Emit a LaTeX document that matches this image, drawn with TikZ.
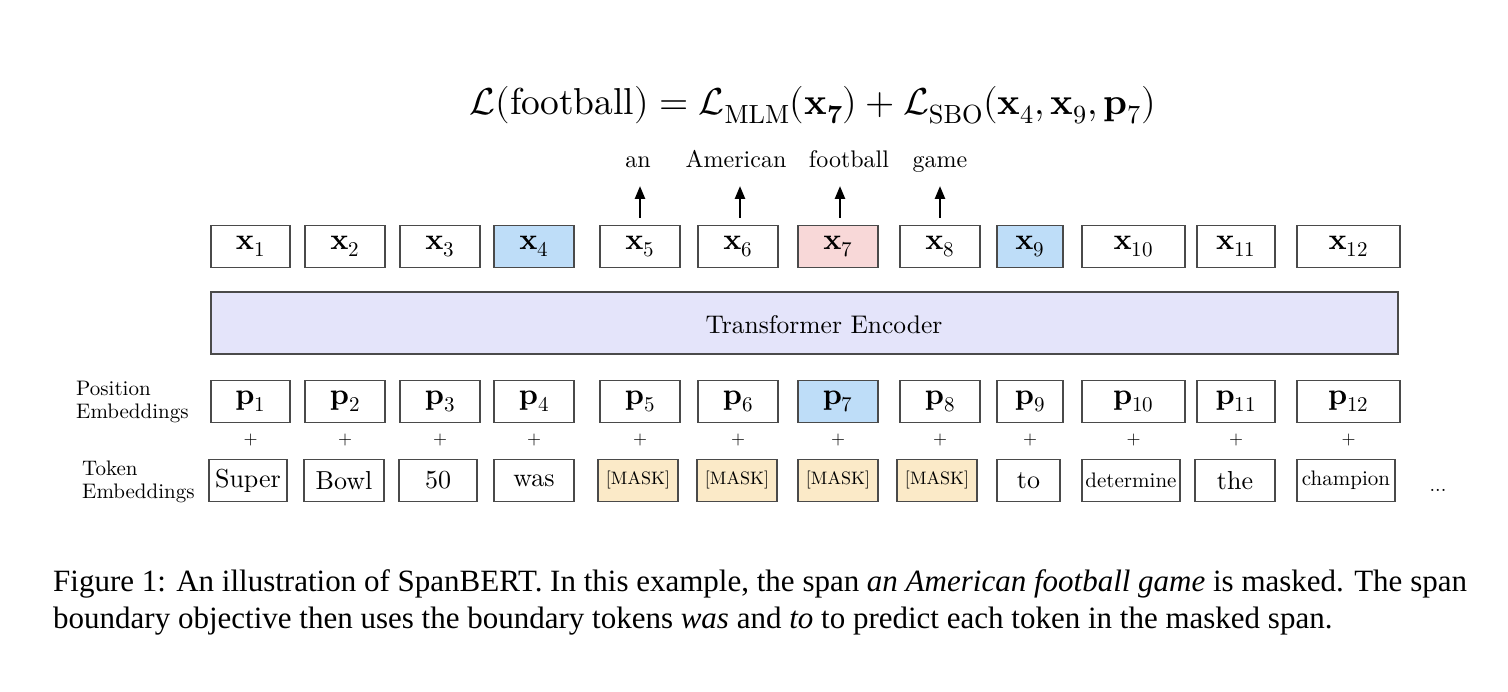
\documentclass[tikz,border=0pt]{standalone}
\usepackage{fontspec}
\usepackage{unicode-math}
\setmainfont{lmroman10-regular}[Extension=.otf, BoldFont=lmroman10-bold, ItalicFont=lmroman10-italic]
\setmathfont{Latin Modern Math}
\usetikzlibrary{arrows.meta}
\newfontfamily\capfont{Liberation Serif}
\newcommand\calL{\mathord{\hbox{\usefont{OMS}{cmsy}{m}{n}L}}}
\definecolor{bordergray}{HTML}{4A4A4A}
\definecolor{hlblue}{HTML}{BEDDF8}
\definecolor{hlpink}{HTML}{F8D8D8}
\definecolor{maskbeige}{HTML}{FBEAC8}
\definecolor{encpurple}{HTML}{E4E4FA}
\tikzset{
  box/.style={draw=bordergray, line width=1.8pt, fill=white, minimum height=42pt, inner sep=0pt, font=\fontsize{30}{34}\selectfont},
  tok/.style={box, font=\fontsize{26}{30}\selectfont},
  masktok/.style={box, fill=maskbeige, font=\fontsize{18}{22}\selectfont},
  plus/.style={font=\fontsize{18}{20}\selectfont, inner sep=0pt},
  side/.style={font=\fontsize{21}{23}\selectfont, align=left, inner sep=0pt, anchor=west},
  word/.style={font=\fontsize{24}{28}\selectfont, inner sep=0pt, anchor=base},
  up/.style={line width=2.4pt, -{Triangle[length=13pt,width=10pt]}},
  captext/.style={anchor=base west, inner sep=0pt, font=\capfont\fontsize{31}{36}\selectfont},
}
\begin{document}
\begin{tikzpicture}[x=1pt,y=-1pt]
\useasboundingbox[fill=white] (0,0) rectangle (1508,692);
% equation
\node[font=\fontsize{37.5}{42}\selectfont, inner sep=0pt] (eq) at (813,105) {$\calL(\mathrm{football}) = \calL_{\mathrm{MLM}}(\mathbf{x_7}) + \calL_{\mathrm{SBO}}(\mathbf{x}_4, \mathbf{x}_9, \mathbf{p}_7)$};
% x row, p row, plus signs
\foreach \n/\cx/\w/\f in {1/250.5/79/white,2/345/80/white,3/440/80/white,4/534/80/hlblue,5/640/80/white,6/738/80/white,7/838/80/hlpink,8/940/80/white,9/1030/66/hlblue,10/1133.5/103/white,11/1236/78/white,12/1348.5/103/white}{
  \node[box, fill=\f, minimum width=\w] (x\n) at (\cx,246.5) {$\mathbf{x}_{\n}$};
  \node[box, fill=white, minimum width=\w] (p\n) at (\cx,401.5) {$\mathbf{p}_{\n}$};
  \node[plus] (plus\n) at (\cx,440) {+};
}
\node[box, fill=hlblue, minimum width=80] (p7hl) at (p7) {$\mathbf{p}_{7}$};
% encoder
\node[draw=bordergray, line width=1.8pt, fill=encpurple, minimum width=1187, minimum height=62, inner sep=0pt] (enc) at (804.5,323) {};
\node[font=\fontsize{25.5}{30}\selectfont, inner sep=0pt] (enclabel) at (824,325) {Transformer Encoder};
% tokens
\node[tok, minimum width=78] (t1) at (248,480.5) {Super};
\node[tok, minimum width=80] (t2) at (344,480.5) {Bowl};
\node[tok, minimum width=78] (t3) at (438,480.5) {50};
\node[tok, minimum width=80] (t4) at (534,480.5) {was};
\node[masktok, minimum width=80] (t5) at (638,480.5) {[MASK]};
\node[masktok, minimum width=80] (t6) at (737,480.5) {[MASK]};
\node[masktok, minimum width=80] (t7) at (838,480.5) {[MASK]};
\node[masktok, minimum width=80] (t8) at (937,480.5) {[MASK]};
\node[tok, minimum width=63] (t9) at (1028.5,480.5) {to};
\node[tok, minimum width=98, font=\fontsize{21}{24}\selectfont] (t10) at (1131,480.5) {determine};
\node[tok, minimum width=80] (t11) at (1235,480.5) {the};
\node[tok, minimum width=98, font=\fontsize{21}{24}\selectfont] (t12) at (1346,480.5) {champion};
\node[font=\fontsize{20}{22}\selectfont, inner sep=0pt, anchor=base] (dots) at (1438,491) {...};
% side labels
\node[side] (poslab) at (76,402) {Position\\Embeddings};
\node[side] (toklab) at (82,482) {Token\\Embeddings};
% predicted words
\node[word] (w5) at (638,168) {an};
\node[word] (w6) at (736,168) {American};
\node[word] (w7) at (849,168) {football};
\node[word] (w8) at (940,168) {game};
\foreach \n/\cx in {5/640,6/740,7/840,8/940}{
  \coordinate (s\n) at (\cx,218);
  \coordinate (e\n) at (\cx,186);
  \draw[up] (s\n) -- (e\n);
}
% caption
\node[captext] (cap1) at (53,591) {Figure 1: An illustration of SpanBERT. In this example, the span \textit{an American football game} is masked. The span};
\node[captext] (cap2) at (53,628) {boundary objective then uses the boundary tokens \textit{was} and \textit{to} to predict each token in the masked span.};
\end{tikzpicture}
\end{document}
